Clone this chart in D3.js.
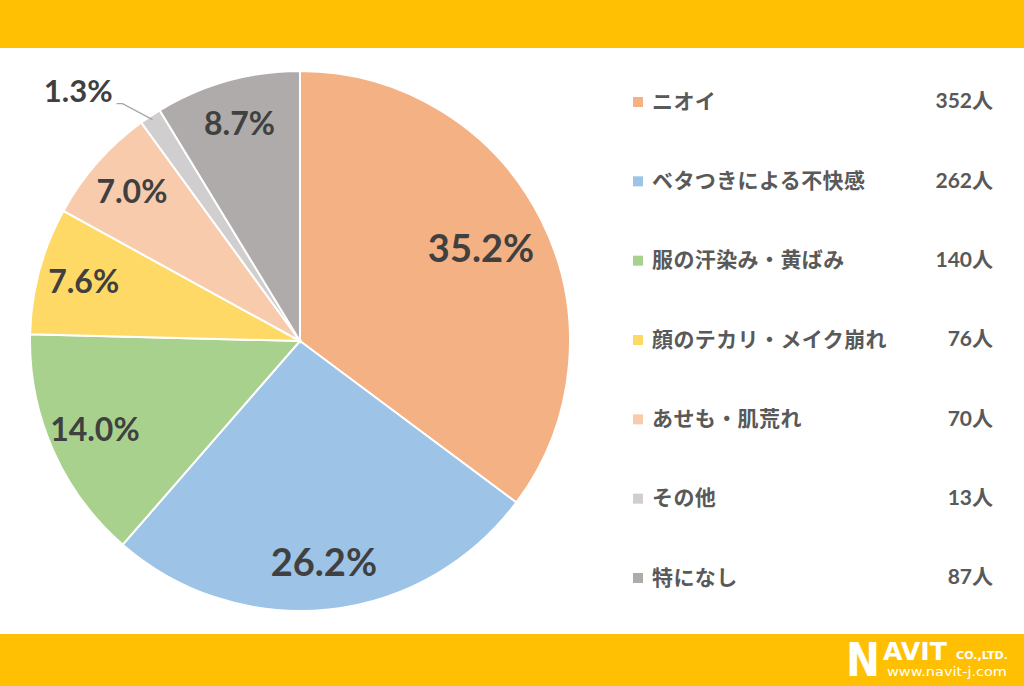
<!DOCTYPE html>
<html>
<head>
<meta charset="utf-8">
<script src="https://cdn.jsdelivr.net/npm/d3@7"></script>
<style>
  html, body { margin: 0; padding: 0; background: #fff; }
  svg { display: block; }
</style>
</head>
<body>
<div id="chart"></div>
<script>
"use strict";

const categories = [
  "ニオイ",
  "ベタつきによる不快感",
  "服の汗染み・黄ばみ",
  "顔のテカリ・メイク崩れ",
  "あせも・肌荒れ",
  "その他",
  "特になし",
];
const counts = [352, 262, 140, 76, 70, 13, 87];
const colors = ["#f4b183", "#9dc3e6", "#a9d18e", "#ffd966", "#f8cbad", "#d0cece", "#afabab"];

const W = 1024, H = 686;
const cx = 300, cy = 341, R = 270;

const svg = d3.select("#chart").append("svg").attr("width", W).attr("height", H);

// top and bottom bands
svg.append("rect").attr("x", 0).attr("y", 0).attr("width", W).attr("height", 48).attr("fill", "#ffc004");
svg.append("rect").attr("x", 0).attr("y", 634).attr("width", W).attr("height", H - 634).attr("fill", "#ffc004");

const total = d3.sum(counts);
const data = counts.map((v, i) => ({ name: categories[i], value: v, color: colors[i] }));

const pie = d3.pie().value((d) => d.value).sort(null);
const arc = d3.arc().innerRadius(0).outerRadius(R);
const labelArc = d3.arc().innerRadius(R * 0.83).outerRadius(R * 0.83);
const arcs = pie(data);

const g = svg.append("g").attr("transform", `translate(${cx},${cy})`);

g.selectAll("path")
  .data(arcs)
  .enter()
  .append("path")
  .attr("d", arc)
  .attr("fill", (d) => d.data.color)
  .attr("stroke", "#fff")
  .attr("stroke-width", 2);

const pct = (v) => ((v / total) * 100).toFixed(1) + "%";
const labelFont = "Lato, 'Open Sans', sans-serif";

// slice labels (the small one sits outside with a leader line)
arcs.forEach((d, i) => {
  const share = d.data.value / total;
  if (share < 0.03) {
    const mid = (d.startAngle + d.endAngle) / 2;
    const p0 = [Math.sin(mid) * (R - 4), -Math.cos(mid) * (R - 4)];
    const p1 = [p0[0] - 30, p0[1] - 16];
    g.append("polyline")
      .attr("points", [p0, p1, [p1[0] - 6, p1[1]]].map((p) => p.join(",")).join(" "))
      .attr("fill", "none")
      .attr("stroke", "#a6a6a6")
      .attr("stroke-width", 1.2);
    g.append("text")
      .attr("x", p1[0] - 10)
      .attr("y", p1[1] - 10)
      .attr("text-anchor", "end")
      .attr("dominant-baseline", "middle")
      .attr("font-family", labelFont)
      .attr("font-weight", "bold")
      .attr("font-size", 31)
      .attr("fill", "#404040")
      .text(pct(d.data.value));
    return;
  }
  const [x, y] = (i === 0 ? d3.arc().innerRadius(R * 0.75).outerRadius(R * 0.75) : labelArc).centroid(d);
  g.append("text")
    .attr("x", x)
    .attr("y", y + 2)
    .attr("text-anchor", "middle")
    .attr("dominant-baseline", "middle")
    .attr("font-family", labelFont)
    .attr("font-weight", "bold")
    .attr("font-size", share > 0.2 ? 38 : 32)
    .attr("fill", "#404040")
    .text(pct(d.data.value));
});

// legend
const legendY = d3.scalePoint().domain(categories).range([102, 578]);
const legend = svg.append("g");

legend.selectAll("rect")
  .data(data)
  .enter()
  .append("rect")
  .attr("x", 633)
  .attr("y", (d) => legendY(d.name) - 5)
  .attr("width", 10)
  .attr("height", 10)
  .attr("fill", (d) => d.color);

legend.selectAll("text.name")
  .data(data)
  .enter()
  .append("text")
  .attr("class", "name")
  .attr("x", 652)
  .attr("y", (d) => legendY(d.name) + 1)
  .attr("dominant-baseline", "middle")
  .attr("font-family", "'Noto Sans CJK JP', sans-serif")
  .attr("font-weight", "bold")
  .attr("font-size", 21)
  .attr("letter-spacing", 0.4)
  .attr("fill", "#595959")
  .text((d) => d.name);

legend.selectAll("text.count")
  .data(data)
  .enter()
  .append("text")
  .attr("class", "count")
  .attr("x", 993)
  .attr("y", (d) => legendY(d.name) + 1)
  .attr("text-anchor", "end")
  .attr("dominant-baseline", "middle")
  .attr("font-family", "Lato, 'Noto Sans CJK JP', sans-serif")
  .attr("font-weight", "bold")
  .attr("font-size", 21)
  .attr("fill", "#595959")
  .text((d) => d.value + "人");

// logo
const logo = svg.append("g").attr("fill", "#fff").attr("font-family", "'DejaVu Sans', sans-serif").attr("font-weight", "bold");
logo.append("text").attr("x", 846).attr("y", 676).attr("font-size", 46).attr("textLength", 34).attr("lengthAdjust", "spacingAndGlyphs").text("N");
logo.append("text").attr("x", 883).attr("y", 660).attr("font-size", 25).attr("textLength", 64).attr("lengthAdjust", "spacingAndGlyphs").text("AVIT");
logo.append("text").attr("x", 956).attr("y", 659).attr("font-size", 11).attr("textLength", 52).attr("lengthAdjust", "spacingAndGlyphs").text("CO.,LTD.");
logo.append("text").attr("x", 887).attr("y", 676).attr("font-size", 13).attr("font-weight", "normal").attr("textLength", 120).attr("lengthAdjust", "spacingAndGlyphs").text("www.navit-j.com");
</script>
</body>
</html>
